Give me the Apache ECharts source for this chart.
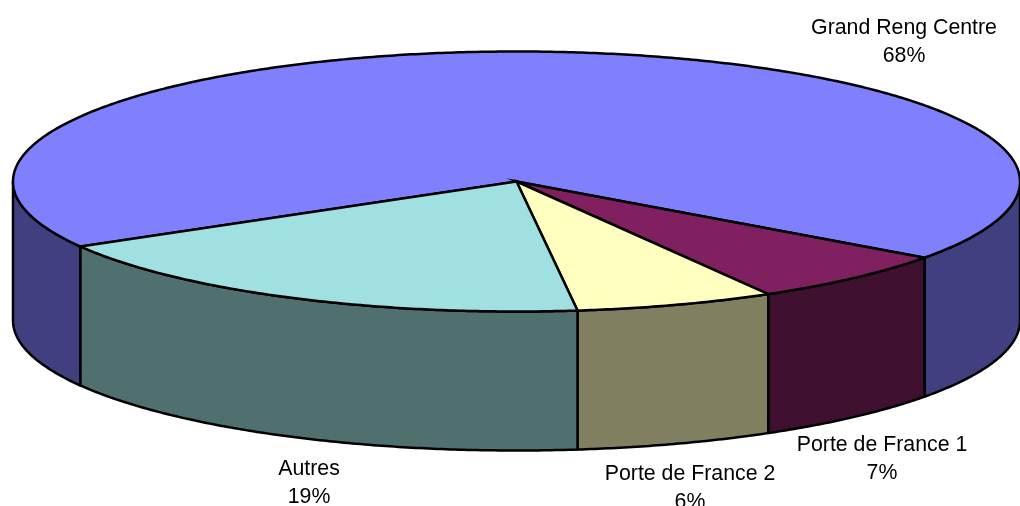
<!DOCTYPE html>
<html>
<head>
<meta charset="utf-8">
<style>
    html, body { margin: 0; padding: 0; background: #fff; }
    #pie { width: 1020px; height: 506px; }
</style>
<script src="https://cdn.jsdelivr.net/npm/echarts@6/dist/echarts.min.js"></script>
</head>
<body>
<div id="pie"></div>
<script>
    var categories = ['Grand Reng Centre', 'Porte de France 1', 'Porte de France 2', 'Autres'];
    var shares = [68.3, 6.7, 6.4, 18.6];

    var topColors = ['#8080FF', '#802060', '#FFFFC0', '#A0E0E0'];
    var wallColors = ['#404080', '#401030', '#808060', '#507070'];

    // middle of each two-line label, px
    var labelX = [904, 882, 690, 309];
    var labelY = [42, 459, 488, 483];

    var cx = 516.5, cy = 181.5, rx = 503.5, ry = 130, depth = 139;
    var startAngle = 150; // degrees, clockwise from 3 o'clock
    var total = shares.reduce(function (a, b) { return a + b; }, 0);

    function sliceRange(index) {
        var from = startAngle;
        for (var i = 0; i < index; i++) {
            from += shares[i] / total * 360;
        }
        return [from, from + shares[index] / total * 360];
    }

    function arcPoints(from, to, dy) {
        var pts = [];
        var steps = Math.max(2, Math.ceil(Math.abs(to - from) * 2));
        for (var i = 0; i <= steps; i++) {
            var a = (from + (to - from) * i / steps) * Math.PI / 180;
            pts.push([cx + rx * Math.cos(a), cy + ry * Math.sin(a) + dy]);
        }
        return pts;
    }

    function renderWall(params, api) {
        var range = sliceRange(api.value(0));
        var children = [];
        // only the front half of the disc (0-180 degrees) shows a wall
        [[0, 180], [360, 540]].forEach(function (front) {
            var from = Math.max(range[0], front[0]);
            var to = Math.min(range[1], front[1]);
            if (to <= from) {
                return;
            }
            children.push({
                type: 'polygon',
                shape: { points: arcPoints(from, to, 0).concat(arcPoints(to, from, depth)) },
                style: { fill: wallColors[params.dataIndex], stroke: '#000', lineWidth: 2.5, lineJoin: 'round' }
            });
        });
        return { type: 'group', children: children };
    }

    function renderTop(params, api) {
        var range = sliceRange(api.value(0));
        return {
            type: 'polygon',
            shape: { points: [[cx, cy]].concat(arcPoints(range[0], range[1], 0)) },
            style: { fill: topColors[params.dataIndex], stroke: '#000', lineWidth: 2.5, lineJoin: 'miter' }
        };
    }

    function renderLabel(params, api) {
        var i = params.dataIndex;
        return {
            type: 'text',
            style: {
                x: labelX[i],
                y: labelY[i],
                text: categories[i] + '\n' + Math.round(shares[i]) + '%',
                align: 'center',
                verticalAlign: 'middle',
                fontFamily: 'Liberation Sans',
                fontSize: 21.3,
                lineHeight: 28,
                fill: '#000'
            }
        };
    }

    var indexData = categories.map(function (name, i) { return [i]; });
    var pieChart = echarts.init(document.getElementById('pie'));
    pieChart.setOption({
        animation: false,
        backgroundColor: '#fff',
        series: [
            { type: 'custom', coordinateSystem: 'none', renderItem: renderWall, data: indexData, z: 1 },
            { type: 'custom', coordinateSystem: 'none', renderItem: renderTop, data: indexData, z: 2 },
            { type: 'custom', coordinateSystem: 'none', renderItem: renderLabel, data: indexData, z: 3 }
        ]
    });
</script>
</body>
</html>
